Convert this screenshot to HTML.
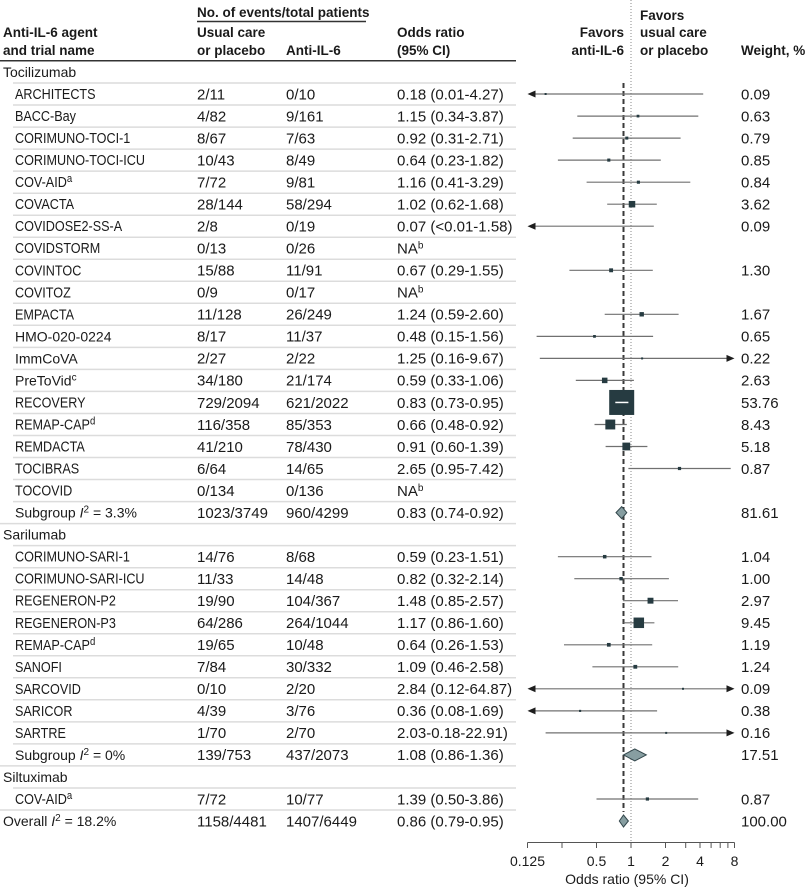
<!DOCTYPE html>
<html><head><meta charset="utf-8"><style>
html,body{margin:0;padding:0;background:#fff;}
svg{display:block;}
text{font-family:"Liberation Sans",sans-serif;fill:#1a1a1a;}
.h{font-size:13.5px;font-weight:bold;}
.n{font-size:14px;}
.c{font-size:14.5px;}
.d{font-size:15px;}
.sep{stroke:#dcdcdc;stroke-width:1.5;}
.ci{stroke:#707070;stroke-width:1.2;}
.bx{fill:#263b41;}
.ar{fill:#1e1e1e;}
.dm{fill:#879ea1;stroke:#33474c;stroke-width:1;}
</style></head><body>
<svg width="810" height="891" viewBox="0 0 810 891" xmlns="http://www.w3.org/2000/svg">
<!-- header -->
<text class="h" x="197" y="17">No. of events/total patients</text>
<line x1="197" y1="21.5" x2="366" y2="21.5" stroke="#333" stroke-width="1.5"/>
<text class="h" x="3" y="37">Anti-IL-6 agent</text>
<text class="h" x="3" y="55">and trial name</text>
<text class="h" x="197" y="37">Usual care</text>
<text class="h" x="197" y="55">or placebo</text>
<text class="h" x="286" y="55">Anti-IL-6</text>
<text class="h" x="397" y="37">Odds ratio</text>
<text class="h" x="397" y="55">(95% CI)</text>
<text class="h" x="624" y="37" text-anchor="end">Favors</text>
<text class="h" x="624" y="55" text-anchor="end">anti-IL-6</text>
<text class="h" x="640" y="20">Favors</text>
<text class="h" x="640" y="37">usual care</text>
<text class="h" x="640" y="55">or placebo</text>
<text class="h" x="741" y="55">Weight, %</text>
<line x1="0" y1="60.7" x2="516" y2="60.7" stroke="#333" stroke-width="1.5"/>

<!-- separators -->
<g class="sep">
<line x1="13" y1="83" x2="516" y2="83"/>
<line x1="13" y1="105" x2="516" y2="105"/>
<line x1="13" y1="127.1" x2="516" y2="127.1"/>
<line x1="13" y1="149.1" x2="516" y2="149.1"/>
<line x1="13" y1="171.1" x2="516" y2="171.1"/>
<line x1="13" y1="193.2" x2="516" y2="193.2"/>
<line x1="13" y1="215.2" x2="516" y2="215.2"/>
<line x1="13" y1="237.2" x2="516" y2="237.2"/>
<line x1="13" y1="259.2" x2="516" y2="259.2"/>
<line x1="13" y1="281.3" x2="516" y2="281.3"/>
<line x1="13" y1="303.3" x2="516" y2="303.3"/>
<line x1="13" y1="325.3" x2="516" y2="325.3"/>
<line x1="13" y1="347.4" x2="516" y2="347.4"/>
<line x1="13" y1="369.4" x2="516" y2="369.4"/>
<line x1="13" y1="391.4" x2="516" y2="391.4"/>
<line x1="13" y1="413.5" x2="516" y2="413.5"/>
<line x1="13" y1="435.5" x2="516" y2="435.5"/>
<line x1="13" y1="457.5" x2="516" y2="457.5"/>
<line x1="13" y1="479.5" x2="516" y2="479.5"/>
<line x1="13" y1="501.6" x2="516" y2="501.6"/>
<line x1="0" y1="523.6" x2="516" y2="523.6"/>
<line x1="13" y1="545.6" x2="516" y2="545.6"/>
<line x1="13" y1="567.7" x2="516" y2="567.7"/>
<line x1="13" y1="589.7" x2="516" y2="589.7"/>
<line x1="13" y1="611.7" x2="516" y2="611.7"/>
<line x1="13" y1="633.8" x2="516" y2="633.8"/>
<line x1="13" y1="655.8" x2="516" y2="655.8"/>
<line x1="13" y1="677.8" x2="516" y2="677.8"/>
<line x1="13" y1="699.8" x2="516" y2="699.8"/>
<line x1="13" y1="721.9" x2="516" y2="721.9"/>
<line x1="13" y1="743.9" x2="516" y2="743.9"/>
<line x1="0" y1="765.9" x2="516" y2="765.9"/>
<line x1="13" y1="788" x2="516" y2="788"/>
<line x1="0" y1="810" x2="516" y2="810"/>
</g>

<!-- names (mixed case) -->
<text class="n" x="3" y="77">Tocilizumab</text>
<text class="n" x="15" y="341.4">HMO-020-0224</text>
<text class="n" x="15" y="363.4">ImmCoVA</text>
<text class="n" x="15" y="385.4">PreToVid<tspan font-size="10" dy="-5">c</tspan></text>
<text class="n" x="15" y="517.6">Subgroup <tspan font-style="italic">I</tspan><tspan font-size="10" dy="-5">2</tspan><tspan dy="5"> = 3.3%</tspan></text>
<text class="n" x="3" y="539.6">Sarilumab</text>
<text class="n" x="15" y="759.9">Subgroup <tspan font-style="italic">I</tspan><tspan font-size="10" dy="-5">2</tspan><tspan dy="5"> = 0%</tspan></text>
<text class="n" x="3" y="782">Siltuximab</text>
<text class="n" x="3" y="826">Overall <tspan font-style="italic">I</tspan><tspan font-size="10" dy="-5">2</tspan><tspan dy="5"> = 18.2%</tspan></text>

<!-- names (caps, condensed) -->
<g class="c" transform="scale(0.87,1)">
<text x="17.24" y="99">ARCHITECTS</text>
<text x="17.24" y="121.1">BACC-Bay</text>
<text x="17.24" y="143.1">CORIMUNO-TOCI-1</text>
<text x="17.24" y="165.1">CORIMUNO-TOCI-ICU</text>
<text x="17.24" y="187.2">COV-AID<tspan font-size="11" dy="-5">a</tspan></text>
<text x="17.24" y="209.2">COVACTA</text>
<text x="17.24" y="231.2">COVIDOSE2-SS-A</text>
<text x="17.24" y="253.2">COVIDSTORM</text>
<text x="17.24" y="275.3">COVINTOC</text>
<text x="17.24" y="297.3">COVITOZ</text>
<text x="17.24" y="319.3">EMPACTA</text>
<text x="17.24" y="407.5">RECOVERY</text>
<text x="17.24" y="429.5">REMAP-CAP<tspan font-size="11" dy="-5">d</tspan></text>
<text x="17.24" y="451.5">REMDACTA</text>
<text x="17.24" y="473.5">TOCIBRAS</text>
<text x="17.24" y="495.6">TOCOVID</text>
<text x="17.24" y="561.7">CORIMUNO-SARI-1</text>
<text x="17.24" y="583.7">CORIMUNO-SARI-ICU</text>
<text x="17.24" y="605.7">REGENERON-P2</text>
<text x="17.24" y="627.8">REGENERON-P3</text>
<text x="17.24" y="649.8">REMAP-CAP<tspan font-size="11" dy="-5">d</tspan></text>
<text x="17.24" y="671.8">SANOFI</text>
<text x="17.24" y="693.8">SARCOVID</text>
<text x="17.24" y="715.9">SARICOR</text>
<text x="17.24" y="737.9">SARTRE</text>
<text x="17.24" y="804">COV-AID<tspan font-size="11" dy="-5">a</tspan></text>
</g>

<!-- usual care column -->
<g class="d">
<text x="197" y="99.3">2/11</text>
<text x="197" y="121.4">4/82</text>
<text x="197" y="143.4">8/67</text>
<text x="197" y="165.4">10/43</text>
<text x="197" y="187.5">7/72</text>
<text x="197" y="209.5">28/144</text>
<text x="197" y="231.5">2/8</text>
<text x="197" y="253.5">0/13</text>
<text x="197" y="275.6">15/88</text>
<text x="197" y="297.6">0/9</text>
<text x="197" y="319.6">11/128</text>
<text x="197" y="341.7">8/17</text>
<text x="197" y="363.7">2/27</text>
<text x="197" y="385.7">34/180</text>
<text x="197" y="407.8">729/2094</text>
<text x="197" y="429.8">116/358</text>
<text x="197" y="451.8">41/210</text>
<text x="197" y="473.8">6/64</text>
<text x="197" y="495.9">0/134</text>
<text x="197" y="517.9">1023/3749</text>
<text x="197" y="562">14/76</text>
<text x="197" y="584">11/33</text>
<text x="197" y="606">19/90</text>
<text x="197" y="628.1">64/286</text>
<text x="197" y="650.1">19/65</text>
<text x="197" y="672.1">7/84</text>
<text x="197" y="694.1">0/10</text>
<text x="197" y="716.2">4/39</text>
<text x="197" y="738.2">1/70</text>
<text x="197" y="760.2">139/753</text>
<text x="197" y="804.3">7/72</text>
<text x="197" y="826.3">1158/4481</text>
</g>

<!-- anti-IL-6 column -->
<g class="d">
<text x="286" y="99.3">0/10</text>
<text x="286" y="121.4">9/161</text>
<text x="286" y="143.4">7/63</text>
<text x="286" y="165.4">8/49</text>
<text x="286" y="187.5">9/81</text>
<text x="286" y="209.5">58/294</text>
<text x="286" y="231.5">0/19</text>
<text x="286" y="253.5">0/26</text>
<text x="286" y="275.6">11/91</text>
<text x="286" y="297.6">0/17</text>
<text x="286" y="319.6">26/249</text>
<text x="286" y="341.7">11/37</text>
<text x="286" y="363.7">2/22</text>
<text x="286" y="385.7">21/174</text>
<text x="286" y="407.8">621/2022</text>
<text x="286" y="429.8">85/353</text>
<text x="286" y="451.8">78/430</text>
<text x="286" y="473.8">14/65</text>
<text x="286" y="495.9">0/136</text>
<text x="286" y="517.9">960/4299</text>
<text x="286" y="562">8/68</text>
<text x="286" y="584">14/48</text>
<text x="286" y="606">104/367</text>
<text x="286" y="628.1">264/1044</text>
<text x="286" y="650.1">10/48</text>
<text x="286" y="672.1">30/332</text>
<text x="286" y="694.1">2/20</text>
<text x="286" y="716.2">3/76</text>
<text x="286" y="738.2">2/70</text>
<text x="286" y="760.2">437/2073</text>
<text x="286" y="804.3">10/77</text>
<text x="286" y="826.3">1407/6449</text>
</g>

<!-- odds ratio column -->
<g class="d">
<text x="397" y="99.3">0.18 (0.01-4.27)</text>
<text x="397" y="121.4">1.15 (0.34-3.87)</text>
<text x="397" y="143.4">0.92 (0.31-2.71)</text>
<text x="397" y="165.4">0.64 (0.23-1.82)</text>
<text x="397" y="187.5">1.16 (0.41-3.29)</text>
<text x="397" y="209.5">1.02 (0.62-1.68)</text>
<text x="397" y="231.5">0.07 (&lt;0.01-1.58)</text>
<text x="397" y="253.5">NA<tspan font-size="10" dy="-5">b</tspan></text>
<text x="397" y="275.6">0.67 (0.29-1.55)</text>
<text x="397" y="297.6">NA<tspan font-size="10" dy="-5">b</tspan></text>
<text x="397" y="319.6">1.24 (0.59-2.60)</text>
<text x="397" y="341.7">0.48 (0.15-1.56)</text>
<text x="397" y="363.7">1.25 (0.16-9.67)</text>
<text x="397" y="385.7">0.59 (0.33-1.06)</text>
<text x="397" y="407.8">0.83 (0.73-0.95)</text>
<text x="397" y="429.8">0.66 (0.48-0.92)</text>
<text x="397" y="451.8">0.91 (0.60-1.39)</text>
<text x="397" y="473.8">2.65 (0.95-7.42)</text>
<text x="397" y="495.9">NA<tspan font-size="10" dy="-5">b</tspan></text>
<text x="397" y="517.9">0.83 (0.74-0.92)</text>
<text x="397" y="562">0.59 (0.23-1.51)</text>
<text x="397" y="584">0.82 (0.32-2.14)</text>
<text x="397" y="606">1.48 (0.85-2.57)</text>
<text x="397" y="628.1">1.17 (0.86-1.60)</text>
<text x="397" y="650.1">0.64 (0.26-1.53)</text>
<text x="397" y="672.1">1.09 (0.46-2.58)</text>
<text x="397" y="694.1">2.84 (0.12-64.87)</text>
<text x="397" y="716.2">0.36 (0.08-1.69)</text>
<text x="397" y="738.2">2.03-0.18-22.91)</text>
<text x="397" y="760.2">1.08 (0.86-1.36)</text>
<text x="397" y="804.3">1.39 (0.50-3.86)</text>
<text x="397" y="826.3">0.86 (0.79-0.95)</text>
</g>

<!-- weight column -->
<g class="d">
<text x="741" y="99.3">0.09</text>
<text x="741" y="121.4">0.63</text>
<text x="741" y="143.4">0.79</text>
<text x="741" y="165.4">0.85</text>
<text x="741" y="187.5">0.84</text>
<text x="741" y="209.5">3.62</text>
<text x="741" y="231.5">0.09</text>
<text x="741" y="275.6">1.30</text>
<text x="741" y="319.6">1.67</text>
<text x="741" y="341.7">0.65</text>
<text x="741" y="363.7">0.22</text>
<text x="741" y="385.7">2.63</text>
<text x="741" y="407.8">53.76</text>
<text x="741" y="429.8">8.43</text>
<text x="741" y="451.8">5.18</text>
<text x="741" y="473.8">0.87</text>
<text x="741" y="517.9">81.61</text>
<text x="741" y="562">1.04</text>
<text x="741" y="584">1.00</text>
<text x="741" y="606">2.97</text>
<text x="741" y="628.1">9.45</text>
<text x="741" y="650.1">1.19</text>
<text x="741" y="672.1">1.24</text>
<text x="741" y="694.1">0.09</text>
<text x="741" y="716.2">0.38</text>
<text x="741" y="738.2">0.16</text>
<text x="741" y="760.2">17.51</text>
<text x="741" y="804.3">0.87</text>
<text x="741" y="826.3">100.00</text>
</g>

<!-- reference lines -->
<line x1="631" y1="0" x2="631" y2="842.5" stroke="#8a8a8a" stroke-width="1" stroke-dasharray="1,2"/>
<line x1="623.5" y1="83" x2="623.5" y2="812" stroke="#3a3a3a" stroke-width="2" stroke-dasharray="5,3"/>

<!-- CI lines -->
<g class="ci">
<line x1="532" y1="94" x2="703.2" y2="94"/>
<line x1="577.3" y1="116.1" x2="698.3" y2="116.1"/>
<line x1="572.7" y1="138.1" x2="680.6" y2="138.1"/>
<line x1="557.9" y1="160.1" x2="660.8" y2="160.1"/>
<line x1="586.6" y1="182.2" x2="690.3" y2="182.2"/>
<line x1="607.2" y1="204.2" x2="656.8" y2="204.2"/>
<line x1="532" y1="226.2" x2="653.8" y2="226.2"/>
<line x1="569.4" y1="270.3" x2="652.8" y2="270.3"/>
<line x1="604.7" y1="314.3" x2="678.6" y2="314.3"/>
<line x1="536.6" y1="336.4" x2="653.1" y2="336.4"/>
<line x1="539.8" y1="358.4" x2="730" y2="358.4"/>
<line x1="575.8" y1="380.4" x2="633.9" y2="380.4"/>
<line x1="594.5" y1="424.5" x2="626.8" y2="424.5"/>
<line x1="605.6" y1="446.5" x2="647.4" y2="446.5"/>
<line x1="628.4" y1="468.5" x2="730.7" y2="468.5"/>
<line x1="557.9" y1="556.7" x2="651.5" y2="556.7"/>
<line x1="574.3" y1="578.7" x2="668.9" y2="578.7"/>
<line x1="622.9" y1="600.7" x2="678" y2="600.7"/>
<line x1="623.5" y1="622.8" x2="654.4" y2="622.8"/>
<line x1="564" y1="644.8" x2="652.2" y2="644.8"/>
<line x1="592.4" y1="666.8" x2="678.2" y2="666.8"/>
<line x1="532" y1="688.8" x2="730" y2="688.8"/>
<line x1="532" y1="710.9" x2="657.1" y2="710.9"/>
<line x1="545.6" y1="732.9" x2="730" y2="732.9"/>
<line x1="596.5" y1="799" x2="698.2" y2="799"/>
</g>

<!-- arrows -->
<g class="ar">
<polygon points="527.5,94 535.5,90.5 535.5,97.5"/>
<polygon points="527.5,226.2 535.5,222.7 535.5,229.7"/>
<polygon points="734.5,358.4 726.5,354.9 726.5,361.9"/>
<polygon points="527.5,688.8 535.5,685.3 535.5,692.3"/>
<polygon points="734.5,688.8 726.5,685.3 726.5,692.3"/>
<polygon points="527.5,710.9 535.5,707.4 535.5,714.4"/>
<polygon points="734.5,732.9 726.5,729.4 726.5,736.4"/>
</g>

<!-- boxes -->
<g class="bx">
<rect x="544.6" y="93" width="2" height="2"/>
<rect x="636.65" y="114.75" width="2.7" height="2.7"/>
<rect x="625.3" y="136.6" width="3" height="3"/>
<rect x="607.25" y="158.55" width="3.1" height="3.1"/>
<rect x="636.85" y="180.65" width="3.1" height="3.1"/>
<rect x="628.75" y="200.95" width="6.5" height="6.5"/>
<rect x="609.15" y="268.35" width="3.9" height="3.9"/>
<rect x="639.5" y="312.1" width="4.4" height="4.4"/>
<rect x="593.1" y="335" width="2.75" height="2.75"/>
<rect x="641.1" y="357.4" width="2" height="2"/>
<rect x="601.95" y="377.65" width="5.5" height="5.5"/>
<rect x="609.2" y="389.95" width="25" height="25"/>
<rect x="605.35" y="419.55" width="9.9" height="9.9"/>
<rect x="622.4" y="442.6" width="7.8" height="7.8"/>
<rect x="677.9" y="466.9" width="3.2" height="3.2"/>
<rect x="602.95" y="554.95" width="3.5" height="3.5"/>
<rect x="619.4" y="577" width="3.4" height="3.4"/>
<rect x="647.55" y="597.75" width="5.9" height="5.9"/>
<rect x="633.55" y="617.55" width="10.5" height="10.5"/>
<rect x="606.95" y="642.95" width="3.7" height="3.7"/>
<rect x="633.4" y="664.9" width="3.8" height="3.8"/>
<rect x="682" y="687.8" width="2" height="2"/>
<rect x="579.05" y="709.85" width="2.1" height="2.1"/>
<rect x="665.2" y="731.9" width="2" height="2"/>
<rect x="645.8" y="797.4" width="3.2" height="3.2"/>
</g>
<line x1="615.3" y1="402.45" x2="628.4" y2="402.45" stroke="#fff" stroke-width="1.5"/>

<!-- diamonds -->
<polygon class="dm" points="616,512.6 621.7,506.6 626.8,512.6 621.7,518.6"/>
<polygon class="dm" points="623.5,754.9 634.8,748.9 646.3,754.9 634.8,760.9"/>
<polygon class="dm" points="619.3,821 623.5,815 628.4,821 623.5,827"/>

<!-- axis -->
<line x1="527.5" y1="842.5" x2="734.5" y2="842.5" stroke="#555" stroke-width="1"/>
<g stroke="#555" stroke-width="1">
<line x1="527.5" y1="842.5" x2="527.5" y2="848"/>
<line x1="562" y1="842.5" x2="562" y2="848"/>
<line x1="596.5" y1="842.5" x2="596.5" y2="848"/>
<line x1="631" y1="842.5" x2="631" y2="848"/>
<line x1="665.5" y1="842.5" x2="665.5" y2="848"/>
<line x1="685.7" y1="842.5" x2="685.7" y2="848"/>
<line x1="700" y1="842.5" x2="700" y2="848"/>
<line x1="711.1" y1="842.5" x2="711.1" y2="848"/>
<line x1="720.2" y1="842.5" x2="720.2" y2="848"/>
<line x1="727.9" y1="842.5" x2="727.9" y2="848"/>
<line x1="734.5" y1="842.5" x2="734.5" y2="848"/>
</g>
<g class="n" text-anchor="middle">
<text x="527.5" y="866">0.125</text>
<text x="596.5" y="866">0.5</text>
<text x="631" y="866">1</text>
<text x="665.5" y="866">2</text>
<text x="700" y="866">4</text>
<text x="734.5" y="866">8</text>
<text x="627" y="884">Odds ratio (95% CI)</text>
</g>
</svg>
</body></html>
